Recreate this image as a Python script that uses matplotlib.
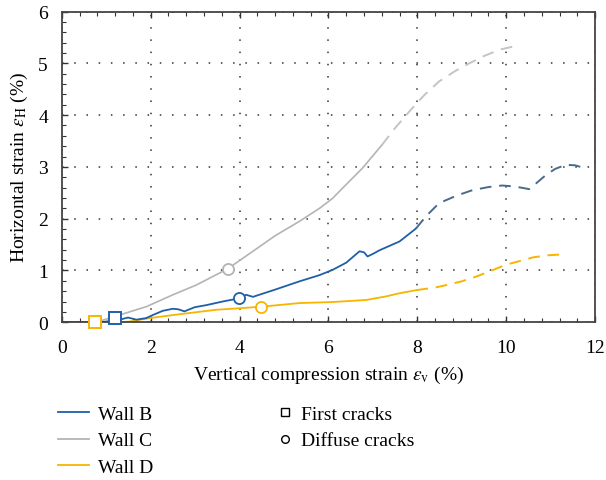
import matplotlib
matplotlib.use("Agg")
import matplotlib.pyplot as plt
from matplotlib.lines import Line2D
from matplotlib.ticker import MultipleLocator

plt.rcParams["font.family"] = ["Liberation Serif", "DejaVu Serif"]
plt.rcParams["mathtext.fontset"] = "stix"

# Wall B (solid part, then dashed continuation)
b_x_solid = [0.0, 0.9, 1.05, 1.19, 1.35, 1.49, 1.68, 1.9, 2.05, 2.27, 2.5, 2.62, 2.76, 2.99, 3.25, 3.62, 3.98, 4.15, 4.3, 4.8, 5.35, 5.8, 6.09, 6.4, 6.7, 6.8, 6.88, 7.0, 7.15, 7.6, 7.97]
b_y_solid = [0.0, 0.0, 0.02, 0.08, 0.06, 0.09, 0.05, 0.08, 0.14, 0.22, 0.26, 0.25, 0.21, 0.29, 0.33, 0.40, 0.46, 0.53, 0.49, 0.63, 0.79, 0.91, 1.01, 1.15, 1.37, 1.35, 1.27, 1.32, 1.39, 1.56, 1.81]
b_x_dash = [7.97, 8.2, 8.49, 8.9, 9.24, 9.6, 9.91, 10.2, 10.52, 10.89, 11.1, 11.34, 11.55, 11.71]
b_y_dash = [1.81, 2.05, 2.30, 2.45, 2.55, 2.61, 2.64, 2.62, 2.57, 2.84, 2.96, 3.04, 3.03, 2.99]

# Wall C
c_x_solid = [0.85, 1.3, 1.9, 2.5, 3.03, 3.73, 4.3, 4.8, 5.35, 5.8, 6.09, 6.4, 6.76, 7.2]
c_y_solid = [0.02, 0.14, 0.30, 0.53, 0.72, 1.03, 1.37, 1.67, 1.95, 2.20, 2.39, 2.66, 2.97, 3.42]
c_x_dash = [7.2, 7.5, 7.82, 8.15, 8.49, 8.85, 9.17, 9.5, 9.84, 10.14]
c_y_dash = [3.42, 3.75, 4.07, 4.38, 4.65, 4.85, 5.00, 5.14, 5.26, 5.32]

# Wall D
d_x_solid = [0.0, 1.2, 1.5, 1.98, 2.7, 3.47, 4.0, 4.49, 5.35, 6.09, 6.85, 7.3, 7.6, 7.98]
d_y_solid = [0.0, 0.0, 0.01, 0.08, 0.16, 0.24, 0.27, 0.30, 0.37, 0.39, 0.43, 0.50, 0.56, 0.62]
d_x_dash = [7.98, 8.4, 8.72, 9.0, 9.32, 9.65, 9.99, 10.3, 10.59, 10.9, 11.26]
d_y_dash = [0.62, 0.67, 0.73, 0.79, 0.88, 0.99, 1.11, 1.18, 1.25, 1.29, 1.31]

# Crack events (x, y)
first_cracks = {"B": (1.19, 0.08), "D": (0.75, 0.0)}
diffuse_cracks = {"B": (3.98, 0.46), "C": (3.73, 1.03), "D": (4.49, 0.30)}

blue = "#1f5fa8"
blue_dash = "#4a6a8c"
gray = "#b4b4b4"
gray_dash = "#c4c4c4"
yellow = "#f7b500"
colors = {"B": blue, "C": gray, "D": yellow}

fig = plt.figure(figsize=(6.06, 4.81), dpi=100)
ax = fig.add_axes([0.102, 0.328, 0.880, 0.646])

ax.plot(c_x_solid, c_y_solid, color=gray, lw=1.2)
ax.plot(c_x_dash, c_y_dash, color=gray_dash, lw=1.4, ls=(0, (6, 4)))
ax.plot(d_x_solid, d_y_solid, color=yellow, lw=1.3)
ax.plot(d_x_dash, d_y_dash, color=yellow, lw=1.4, ls=(0, (6, 4)))
ax.plot(b_x_solid, b_y_solid, color=blue, lw=1.3)
ax.plot(b_x_dash, b_y_dash, color=blue_dash, lw=1.4, ls=(0, (6, 4)))

for k, (x, y) in first_cracks.items():
    ax.plot(x, y, marker="s", ms=8, mfc="white", mec=colors[k], mew=1.4, zorder=5, clip_on=False)
for k, (x, y) in diffuse_cracks.items():
    ax.plot(x, y, marker="o", ms=8, mfc="white", mec=colors[k], mew=1.3, zorder=5, clip_on=False)

ax.set_xlim(0, 12)
ax.set_ylim(0, 6)
ax.xaxis.set_major_locator(MultipleLocator(2))
ax.xaxis.set_minor_locator(MultipleLocator(0.4))
ax.yaxis.set_major_locator(MultipleLocator(1))
ax.yaxis.set_minor_locator(MultipleLocator(0.2))
ax.tick_params(which="both", direction="in", top=True, right=False, labelsize=14, color="#333333")
ax.tick_params(which="major", length=4, width=1)
ax.tick_params(which="minor", length=3, width=0.8)
ax.tick_params(axis="x", pad=12)
ax.tick_params(axis="y", pad=10)
ax.grid(True, which="major", color="#333333", ls=(0, (1, 7)), lw=1.1)
for s in ax.spines.values():
    s.set_color("#444444")
    s.set_linewidth(1.3)

ax.set_xlabel(r"Vertical compression strain $\varepsilon_{\rm v}$ (%)", fontsize=14, labelpad=6)
ax.set_ylabel(r"Horizontal strain $\varepsilon_{\rm H}$ (%)", fontsize=14, labelpad=6)

line_handles = [Line2D([], [], color=blue, lw=1.3),
                Line2D([], [], color=gray, lw=1.3),
                Line2D([], [], color=yellow, lw=1.3)]
fig.legend(line_handles, ["Wall B", "Wall C", "Wall D"], loc="upper left",
           bbox_to_anchor=(0.095, 0.155), frameon=False, fontsize=14,
           handlelength=1.6, handletextpad=0.5, labelspacing=0.45,
           borderaxespad=0, borderpad=0)
marker_handles = [Line2D([], [], ls="none", marker="s", ms=5.5, mfc="white", mec="black", mew=1.0),
                  Line2D([], [], ls="none", marker="o", ms=5.5, mfc="white", mec="black", mew=1.0)]
fig.legend(marker_handles, ["First cracks", "Diffuse cracks"], loc="upper left",
           bbox_to_anchor=(0.454, 0.155), frameon=False, fontsize=14,
           handlelength=1.0, handletextpad=0.35, labelspacing=0.45,
           borderaxespad=0, borderpad=0)

fig.savefig("out.png", dpi=100)
